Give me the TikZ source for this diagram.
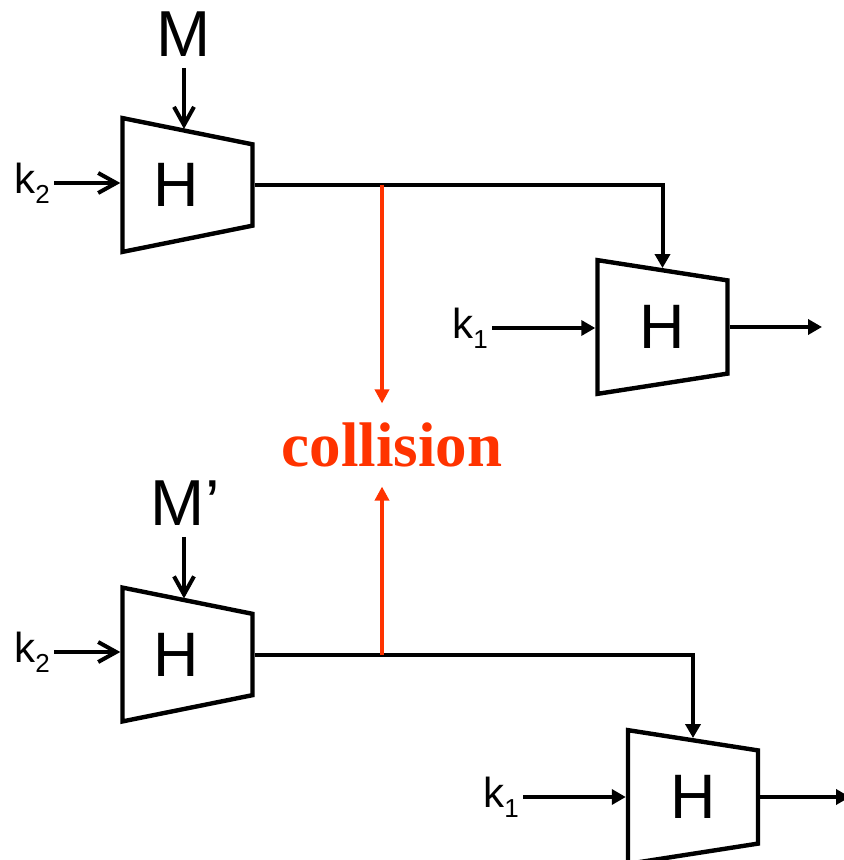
\documentclass[tikz,border=0pt]{standalone}
\usepackage{fontspec}
\setmainfont{Liberation Sans}
\newfontfamily\collfont{Liberation Serif}
\usetikzlibrary{shapes}
\usetikzlibrary{positioning}
\usetikzlibrary{calc}
\usetikzlibrary{arrows.meta}
\definecolor{collred}{RGB}{255,51,0}

\begin{document}
\begin{tikzpicture}[
    x=0.5pt, y=-0.5pt,
    hash/.style={draw, line width=2.2pt, trapezium, shape border rotate=270, trapezium angle=78.3, trapezium stretches=true, minimum width=67pt, minimum height=65pt, inner sep=0pt, font=\fontsize{31.4}{31.4}\selectfont},
    msg/.style={font=\fontsize{32.5}{32.5}\selectfont, inner sep=5.5pt},
    key/.style={font=\fontsize{21}{21}\selectfont, inner sep=2pt},
    feed/.style={-{Straight Barb[length=9pt, width=10pt, line width=2pt]}, line width=2pt},
    flow/.style={-{Triangle[length=7pt, width=7.5pt]}, line width=2pt},
    hit/.style={-{Triangle[length=7pt, width=7pt]}, line width=1.9pt, draw=collred},
    clash/.style={text=collred, inner sep=9.5pt, font=\collfont\bfseries\fontsize{31.5}{31.5}\selectfont}
]
\useasboundingbox (0,0) rectangle (843,860);

\node[hash] (hashA) at (187.5,185) {H\hspace*{11pt}};
\node[hash] (hashB) at (662.5,327) {H};
\node[hash] (hashC) at (187.5,654.5) {H\hspace*{11pt}};
\node[hash] (hashD) at (693,797) {H};

\node[msg] (msgA) at (184,34) {M};
\node[msg] (msgC) at (178,503) {M\rlap{’}};

\node[key] (keyA) at (32,183) {k\raisebox{-5pt}{\fontsize{13}{13}\selectfont 2}};
\node[key] (keyB) at (470,328) {k\raisebox{-5pt}{\fontsize{13}{13}\selectfont 1}};
\node[key] (keyC) at (32,652) {k\raisebox{-5pt}{\fontsize{13}{13}\selectfont 2}};
\node[key] (keyD) at (501,797) {k\raisebox{-5pt}{\fontsize{13}{13}\selectfont 1}};

\node[clash] (coll) at (392,445) {collision};

\coordinate (outB) at (822,0);
\coordinate (outD) at (850,0);
\coordinate (tapA) at (382,0);

\draw[feed] (msgA.south) -- (msgA.south |- hashA.north);
\draw[feed] (msgC.south -| msgA.south) -- (msgA.south |- hashC.north);
\draw[feed] (keyA.east) -- (keyA.east -| hashA.west);
\draw[feed] (keyC.east) -- (keyC.east -| hashC.west);

\draw[flow] (keyB.east) -- (keyB.east -| hashB.west);
\draw[flow] (keyD.east) -- (keyD.east -| hashD.west);
\draw[flow] (hashA.east) -| (hashB.north);
\draw[flow] (hashC.east) -| (hashD.north);
\draw[flow] (hashB.east) -- (hashB.east -| outB);
\draw[flow] (hashD.east) -- (hashD.east -| outD);

\draw[hit] (tapA |- hashA.east) -- (tapA |- coll.north);
\draw[hit] (tapA |- hashC.east) -- (tapA |- coll.south);
\end{tikzpicture}
\end{document}
